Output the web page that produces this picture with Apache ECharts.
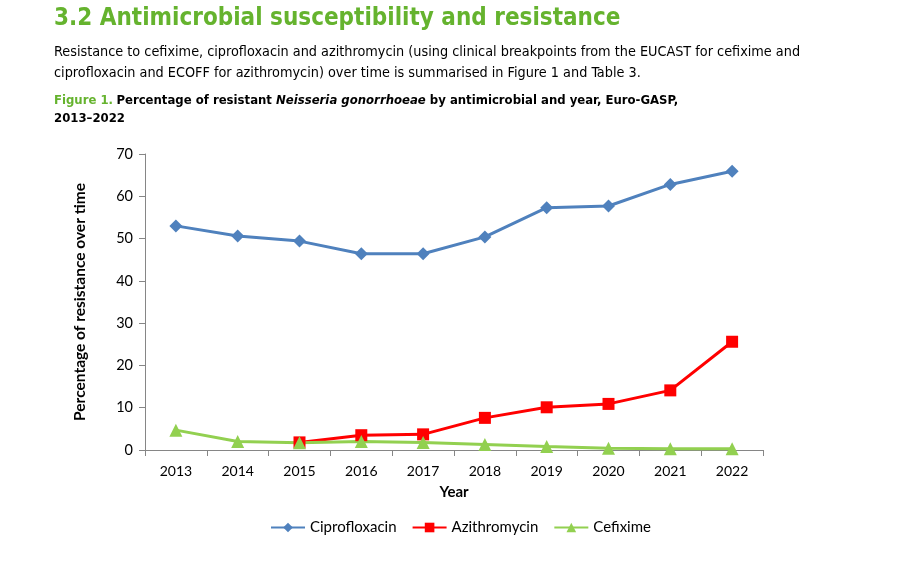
<!DOCTYPE html>
<html><head><meta charset="utf-8">
<script src="https://cdn.jsdelivr.net/npm/echarts@6/dist/echarts.min.js"></script>
<style>html,body{margin:0;padding:0;background:#fff}#c{width:899px;height:566px}</style>
</head><body><div id="c"></div>
<script>
const years = ['2013','2014','2015','2016','2017','2018','2019','2020','2021','2022'];
const ciprofloxacin = [53.0, 50.6, 49.4, 46.4, 46.4, 50.4, 57.3, 57.7, 62.8, 65.9];
const azithromycin = [null, null, 1.8, 3.5, 3.7, 7.6, 10.1, 10.9, 14.1, 25.6];
const cefixime = [4.7, 2.0, 1.7, 2.0, 1.8, 1.3, 0.8, 0.4, 0.3, 0.3];
const seriesNames = ['Ciprofloxacin', 'Azithromycin', 'Cefixime'];

const chart = echarts.init(document.getElementById('c'));
const F = 'Lato, "Open Sans", sans-serif';
const TF = '"DejaVu Sans Condensed", "DejaVu Sans", sans-serif';
chart.setOption({
  animation: false,
  graphic: [
    {type:'text', left:54, top:7, style:{text:'3.2 Antimicrobial susceptibility and resistance', font:'bold 24px '+TF, fill:'#65b32e'}},
    {type:'text', left:54, top:42, style:{text:'Resistance to cefixime, ciprofloxacin and azithromycin (using clinical breakpoints from the EUCAST for cefixime and\nciprofloxacin and ECOFF for azithromycin) over time is summarised in Figure 1 and Table 3.', font:'14.3px '+TF, fill:'#000', lineHeight:21}},
    {type:'text', left:54, top:92, style:{
      text:'{g|Figure 1.} {b|Percentage of resistant }{i|Neisseria gonorrhoeae}{b| by antimicrobial and year, Euro-GASP,}\n{b|2013–2022}',
      lineHeight:18,
      rich:{
        g:{font:'bold 13px '+TF, fill:'#65b32e'},
        b:{font:'bold 13px '+TF, fill:'#000'},
        i:{font:'italic bold 13px '+TF, fill:'#000'}
      }}}
  ],
  legend: {
    bottom: 26, left: 265, itemWidth: 34, itemHeight: 12, itemGap: 15,
    data: seriesNames,
    textStyle: {fontFamily: F, fontSize: 15, color: '#000'}
  },
  grid: {left: 145, right: 136, top: 154, bottom: 116},
  xAxis: {
    type: 'category', data: years, boundaryGap: true,
    name: 'Year', nameLocation: 'middle', nameGap: 35,
    nameTextStyle: {fontFamily: F, fontSize: 15, fontWeight: 'bold', color: '#000'},
    axisLine: {lineStyle: {color: '#868686', width: 1}},
    axisTick: {show: true, length: 6, alignWithLabel: false, lineStyle: {color: '#868686'}},
    axisLabel: {fontFamily: F, fontSize: 14, color: '#000', margin: 14}
  },
  yAxis: {
    type: 'value', min: 0, max: 70, interval: 10,
    name: 'Percentage of resistance over time', nameLocation: 'middle', nameGap: 57,
    nameTextStyle: {fontFamily: F, fontSize: 15.5, fontWeight: 'bold', color: '#000'},
    axisLine: {show: true, lineStyle: {color: '#868686', width: 1}},
    axisTick: {show: true, length: 6, lineStyle: {color: '#868686'}},
    axisLabel: {fontFamily: F, fontSize: 14.5, color: '#000', margin: 12},
    splitLine: {show: false}
  },
  series: [
    {name: seriesNames[0], type: 'line', data: ciprofloxacin, symbol: 'diamond', symbolSize: 13,
     lineStyle: {color: '#4f81bd', width: 3}, itemStyle: {color: '#4f81bd'}},
    {name: seriesNames[1], type: 'line', data: azithromycin, symbol: 'rect', symbolSize: 12,
     lineStyle: {color: '#ff0000', width: 3}, itemStyle: {color: '#ff0000'}},
    {name: seriesNames[2], type: 'line', data: cefixime, symbol: 'triangle', symbolSize: 13,
     lineStyle: {color: '#92d050', width: 3}, itemStyle: {color: '#92d050'}}
  ]
});
</script></body></html>
